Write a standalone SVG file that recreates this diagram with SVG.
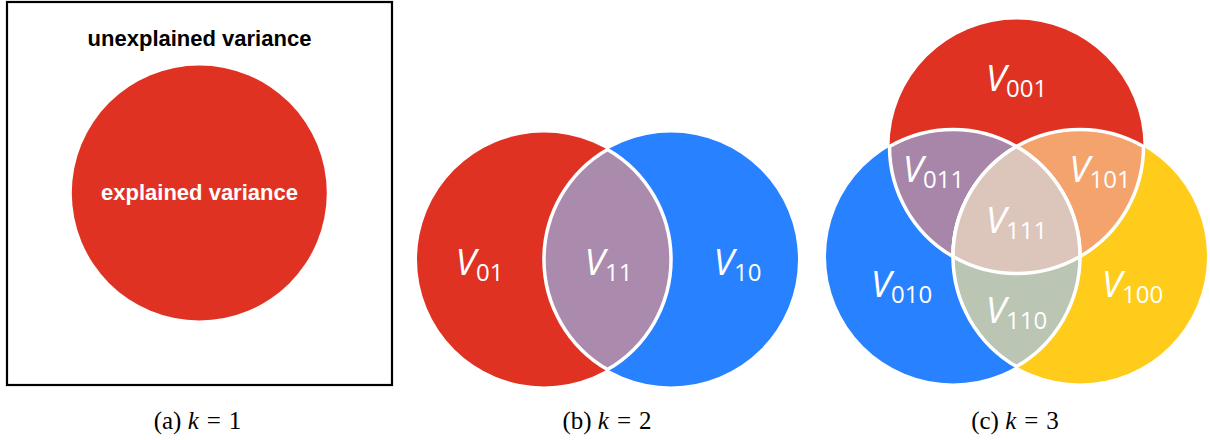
<svg xmlns="http://www.w3.org/2000/svg" width="1210" height="440" viewBox="0 0 1210 440">
<style>
.lbl{font-family:"Open Sans","DejaVu Sans",sans-serif;font-weight:400;fill:#fff;text-anchor:middle}
.vi{font-style:italic;font-size:37px}
.sub{font-size:24px}
.cap{font-family:"Liberation Serif","Times New Roman",serif;font-size:25px;fill:#000;text-anchor:middle}
.it{font-style:italic}
.lens{stroke:#fff;stroke-width:3.5;stroke-linejoin:round}
.bold{font-family:"Liberation Sans",Arial,sans-serif;font-weight:bold;font-size:22px;text-anchor:middle}
</style>
<rect width="1210" height="440" fill="#fff"/>

<g id="panel-a">
  <rect x="7" y="2" width="385" height="383" fill="#fff" stroke="#000" stroke-width="2.2"/>
  <text class="bold" x="199.5" y="46" fill="#000">unexplained variance</text>
  <circle cx="199.3" cy="193" r="127.5" fill="#E03223"/>
  <text class="bold" x="199.5" y="200" fill="#fff">explained variance</text>
  <text class="cap" x="197.5" y="429">(a) <tspan class="it">k</tspan><tspan dx="8">=</tspan><tspan dx="8">1</tspan></text>
</g>

<g id="panel-b">
  <g id="b-v01">
    <circle cx="544" cy="259.5" r="127" fill="#E03223"/>
    <text class="lbl" x="479.5" y="275"><tspan class="vi">V</tspan><tspan class="sub" dy="6">01</tspan></text>
  </g>
  <g id="b-v10">
    <circle cx="671" cy="259.5" r="127" fill="#2882FF"/>
    <text class="lbl" x="737.5" y="275"><tspan class="vi">V</tspan><tspan class="sub" dy="6">10</tspan></text>
  </g>
  <g id="b-v11">
    <path class="lens" fill="#AA8BAE" d="M607.5 149.5 A127 127 0 0 1 607.5 369.5 A127 127 0 0 1 607.5 149.5 Z"/>
    <text class="lbl" x="608.5" y="275"><tspan class="vi">V</tspan><tspan class="sub" dy="6">11</tspan></text>
  </g>
  <text class="cap" x="607" y="429">(b) <tspan class="it">k</tspan><tspan dx="8">=</tspan><tspan dx="8">2</tspan></text>
</g>

<g id="panel-c">
  <g id="c-v001">
    <circle cx="1016.5" cy="146.5" r="127" fill="#E03223"/>
  </g>
  <g id="c-v010">
    <circle cx="953" cy="256.5" r="127" fill="#2882FF"/>
  </g>
  <g id="c-v100">
    <circle cx="1080" cy="256.5" r="127" fill="#FFCC1B"/>
  </g>
  <g id="c-v011">
    <path class="lens" fill="#A886A9" d="M889.5 146.5 A127 127 0 0 1 1080 256.5 A127 127 0 0 1 889.5 146.5 Z"/>
  </g>
  <g id="c-v101">
    <path class="lens" fill="#F4A36C" d="M953 256.5 A127 127 0 0 1 1143.5 146.5 A127 127 0 0 1 953 256.5 Z"/>
  </g>
  <g id="c-v110">
    <path class="lens" fill="#BAC5B3" d="M1016.5 146.5 A127 127 0 0 1 1016.5 366.5 A127 127 0 0 1 1016.5 146.5 Z"/>
  </g>
  <g id="c-v111">
    <path class="lens" fill="#DCC6BC" d="M1016.5 146.5 A127 127 0 0 1 1080 256.5 A127 127 0 0 1 953 256.5 A127 127 0 0 1 1016.5 146.5 Z"/>
  </g>
  <g id="c-labels">
    <text class="lbl" x="1016.5" y="91"><tspan class="vi">V</tspan><tspan class="sub" dy="6">001</tspan></text>
    <text class="lbl" x="933.5" y="182"><tspan class="vi">V</tspan><tspan class="sub" dy="6">011</tspan></text>
    <text class="lbl" x="1100" y="182"><tspan class="vi">V</tspan><tspan class="sub" dy="6">101</tspan></text>
    <text class="lbl" x="1016.5" y="233"><tspan class="vi">V</tspan><tspan class="sub" dy="6">111</tspan></text>
    <text class="lbl" x="901.5" y="297"><tspan class="vi">V</tspan><tspan class="sub" dy="6">010</tspan></text>
    <text class="lbl" x="1132.5" y="297"><tspan class="vi">V</tspan><tspan class="sub" dy="6">100</tspan></text>
    <text class="lbl" x="1016.5" y="323"><tspan class="vi">V</tspan><tspan class="sub" dy="6">110</tspan></text>
  </g>
  <text class="cap" x="1015" y="429">(c) <tspan class="it">k</tspan><tspan dx="8">=</tspan><tspan dx="8">3</tspan></text>
</g>
</svg>
